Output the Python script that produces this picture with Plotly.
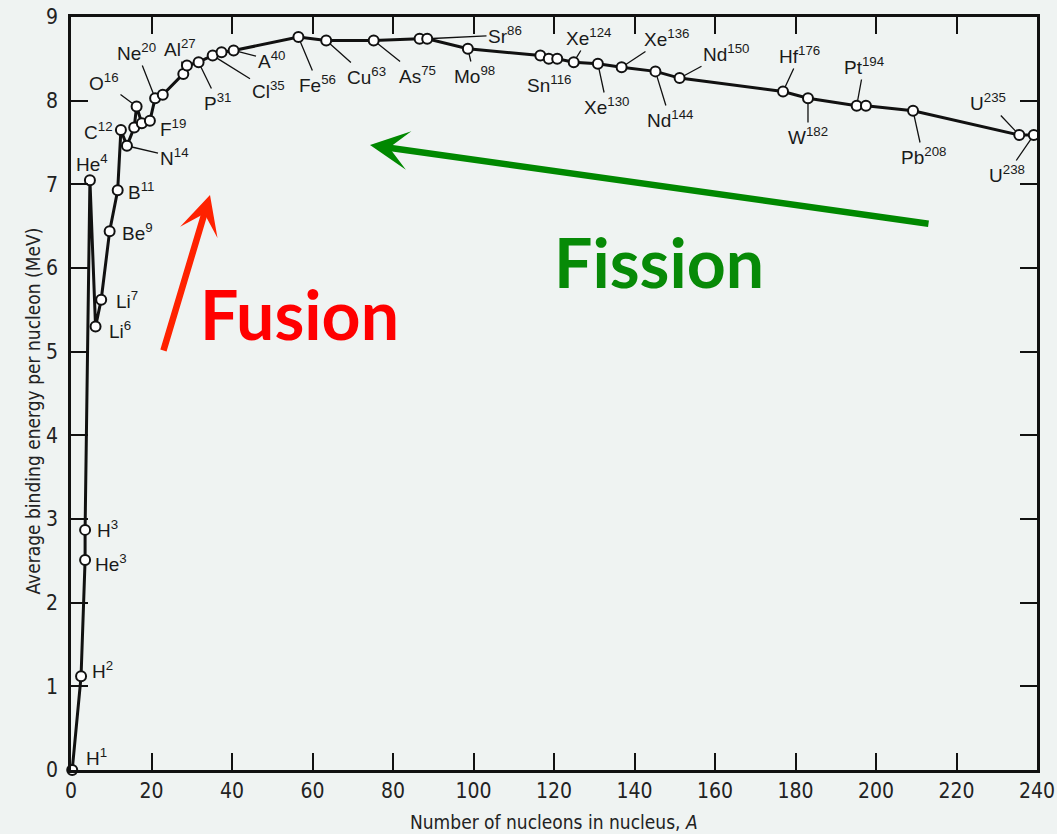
import plotly.graph_objects as go

# ---------------- data ----------------
isotopes = ["H1", "H2", "He3", "H3", "He4", "Li6", "Li7", "Be9", "B11", "C12",
            "N14", "N15", "O16", "O18", "F19", "Ne20", "Na23", "Al27", "Si28", "P31",
            "Cl35", "Ar36", "A40", "Fe56", "Cu63", "As75", "Sr86", "Sr88", "Mo98",
            "Sn116", "Sn118", "Sn120", "Xe124", "Xe130", "Xe136", "Nd144", "Nd150",
            "Hf176", "W182", "Pt194", "Au197", "Pb208", "U235", "U238"]
mass_number = [0.3, 2.5, 3.5, 3.5, 4.7, 6.1, 7.5, 9.6, 11.6, 12.4,
               13.9, 15.7, 16.3, 17.6, 19.6, 20.9, 22.8, 27.9, 28.8, 31.7,
               35.2, 37.4, 40.4, 56.5, 63.4, 75.2, 86.6, 88.5, 98.6,
               116.6, 118.7, 120.8, 124.9, 130.9, 136.8, 145.2, 151.2,
               176.9, 183.1, 195.2, 197.5, 209.2, 235.6, 239.2]
binding_energy = [0.0, 1.12, 2.51, 2.87, 7.05, 5.30, 5.62, 6.44, 6.93, 7.65,
                  7.46, 7.68, 7.93, 7.73, 7.76, 8.03, 8.07, 8.32, 8.42, 8.46,
                  8.54, 8.58, 8.60, 8.76, 8.72, 8.72, 8.74, 8.74, 8.62,
                  8.54, 8.50, 8.50, 8.46, 8.44, 8.40, 8.35, 8.27,
                  8.11, 8.03, 7.94, 7.94, 7.88, 7.59, 7.59]

x_ticks = [0, 20, 40, 60, 80, 100, 120, 140, 160, 180, 200, 220, 240]
y_ticks = [0, 1, 2, 3, 4, 5, 6, 7, 8, 9]

# label: (isotope it belongs to, symbol, mass number)
label_iso = ["H1", "H2", "He3", "H3", "He4", "Li6", "Li7", "Be9", "B11", "C12",
             "F19", "Sn116", "O16", "Ne20", "Al27", "N14", "P31", "Cl35", "A40",
             "Fe56", "Cu63", "As75", "Sr88", "Mo98", "Xe124", "Xe130", "Xe136",
             "Nd144", "Nd150", "Hf176", "W182", "Pt194", "Pb208", "U235", "U238"]
label_sym = ["H", "H", "He", "H", "He", "Li", "Li", "Be", "B", "C",
             "F", "Sn", "O", "Ne", "Al", "N", "P", "Cl", "A",
             "Fe", "Cu", "As", "Sr", "Mo", "Xe", "Xe", "Xe",
             "Nd", "Nd", "Hf", "W", "Pt", "Pb", "U", "U"]
label_mass = ["1", "2", "3", "3", "4", "6", "7", "9", "11", "12",
              "19", "116", "16", "20", "27", "14", "31", "35", "40",
              "56", "63", "75", "86", "98", "124", "130", "136",
              "144", "150", "176", "182", "194", "208", "235", "238"]

# ---------------- layout / placement (pixels) ----------------
W, H = 1057, 834
ML, MR, MT, MB = 71, 20, 17, 64
PW, PH = W - ML - MR, H - MT - MB
XMAX, YMAX = 240, 9


def to_px(a, b):
    return ML + a / XMAX * PW, MT + (YMAX - b) / YMAX * PH


def to_data(px, py):
    return (px - ML) / PW * XMAX, YMAX - (py - MT) / PH * YMAX


# text centre in pixels, and whether a leader line is drawn
label_pos = [(96, 757, 0), (103, 670, 0), (111, 563, 0), (107, 529, 0), (92, 163, 0),
             (120, 330, 0), (127, 300, 0), (137, 232, 0), (141, 191, 0), (98, 131, 0),
             (173, 128, 0), (549, 84, 0), (104, 82, 1), (137, 52, 1), (180, 48, 1),
             (174, 157, 1), (218, 102, 1), (268, 90, 1), (271, 60, 1),
             (318, 84, 1), (366, 76, 1), (417, 75, 1), (505, 35, 1), (474, 75, 1),
             (589, 37, 1), (607, 106, 1), (666, 38, 1), (670, 119, 1), (726, 53, 1),
             (800, 55, 1), (808, 136, 1), (864, 66, 1), (923, 156, 1), (988, 102, 1),
             (1007, 174, 1)]

BG = "#eff3f2"
LBL_FONT = dict(family="Liberation Sans, Arial, sans-serif", size=19, color="#1a1a1a")
TICK_FONT = dict(family="Liberation Sans Narrow, DejaVu Sans Condensed, sans-serif", size=21, color="#222")

fig = go.Figure()
fig.add_trace(go.Scatter(
    x=mass_number, y=binding_energy, mode="lines+markers",
    line=dict(color="#111", width=3),
    marker=dict(size=10, color="white", line=dict(color="#111", width=2)),
    cliponaxis=False, hoverinfo="x+y", showlegend=False,
))

annotations = []
for iso, sym, m, (cx, cy, lead) in zip(label_iso, label_sym, label_mass, label_pos):
    i = isotopes.index(iso)
    a, b = mass_number[i], binding_energy[i]
    px, py = to_px(a, b)
    txt = f"{sym}<sup>{m}</sup>"
    if lead:
        annotations.append(dict(x=a, y=b, xref="x", yref="y", text=txt, showarrow=True,
                                arrowhead=0, arrowwidth=1.3, arrowcolor="#111", standoff=5,
                                ax=cx - px, ay=cy - py, font=LBL_FONT))
    else:
        annotations.append(dict(x=a, y=b, xref="x", yref="y", text=txt, showarrow=False,
                                xshift=cx - px, yshift=-(cy - py), font=LBL_FONT))

# Fusion arrow and text
fx, fy = to_data(210, 195)
annotations.append(dict(x=fx, y=fy, xref="x", yref="y", text="", showarrow=True,
                        arrowhead=3, arrowsize=1, arrowwidth=6.5, arrowcolor="#ff2200",
                        ax=163 - 210, ay=352 - 195))
tx, ty = to_data(299, 313)
annotations.append(dict(x=tx, y=ty, xref="x", yref="y", text="<b>Fusion</b>", showarrow=False,
                        font=dict(family="Lato, Open Sans, sans-serif", size=68, color="#ff0000")))

# Fission arrow and text
gx, gy = to_data(370, 145)
annotations.append(dict(x=gx, y=gy, xref="x", yref="y", text="", showarrow=True,
                        arrowhead=3, arrowsize=1, arrowwidth=6.5, arrowcolor="#008800",
                        ax=930 - 370, ay=224 - 145))
tx, ty = to_data(659, 261)
annotations.append(dict(x=tx, y=ty, xref="x", yref="y", text="<b>Fission</b>", showarrow=False,
                        font=dict(family="Lato, Open Sans, sans-serif", size=68, color="#078a07")))

# axis titles
annotations.append(dict(x=0.5, y=0, xref="paper", yref="paper", yshift=-52, yanchor="middle",
                        text="Number of nucleons in nucleus, <i>A</i>", showarrow=False,
                        font=dict(family="Liberation Sans Narrow, DejaVu Sans Condensed, sans-serif",
                                  size=19, color="#222")))
annotations.append(dict(x=0, y=0.5, xref="paper", yref="paper", xshift=-39, yshift=-18,
                        xanchor="center", textangle=-90,
                        text="Average binding energy per nucleon (MeV)", showarrow=False,
                        font=dict(family="Liberation Sans Narrow, DejaVu Sans Condensed, sans-serif",
                                  size=19, color="#222")))

axis_common = dict(showline=True, linecolor="#111", linewidth=2.5, mirror="ticks",
                   ticks="inside", ticklen=17, tickwidth=2, tickcolor="#111",
                   showgrid=False, zeroline=False, tickfont=TICK_FONT, automargin=False)

fig.update_layout(
    width=W, height=H, margin=dict(l=ML, r=MR, t=MT, b=MB, autoexpand=False),
    paper_bgcolor=BG, plot_bgcolor=BG,
    xaxis=dict(range=[0, XMAX], tickvals=x_ticks, ticklabelstandoff=0, **axis_common),
    yaxis=dict(range=[0, YMAX], tickvals=y_ticks, ticklabelstandoff=6, **axis_common),
    annotations=annotations,
)

page_fix = ("document.body.style.margin='0';document.body.style.padding='0';"
            "document.body.style.overflow='hidden';"
            "document.body.style.background='" + BG + "';")
fig.write_html("out.html", post_script=page_fix, config={"displayModeBar": False})
